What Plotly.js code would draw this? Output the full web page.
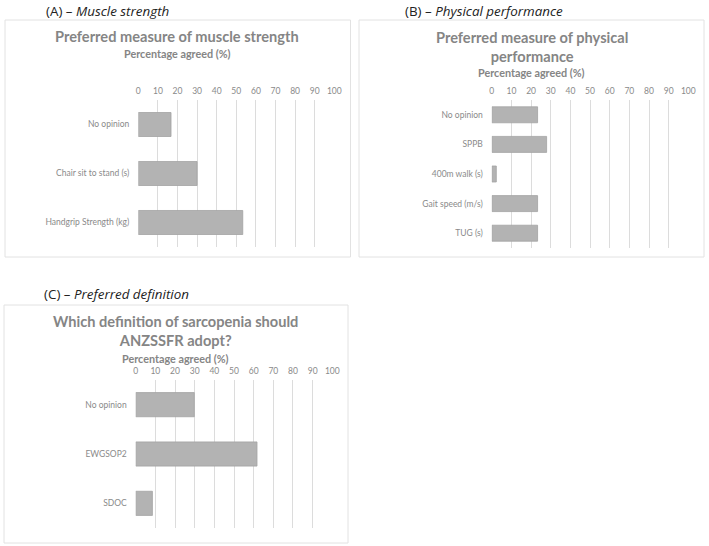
<!DOCTYPE html>
<html>
<head>
<meta charset="utf-8">
<script src="https://cdn.plot.ly/plotly-3.0.1.min.js"></script>
<style>html,body{margin:0;padding:0;background:#fff;}#chart{width:709px;height:546px;}</style>
</head>
<body>
<div id="chart"></div>
<script>
// Panel A – muscle strength
const catsA = ["No opinion", "Chair sit to stand (s)", "Handgrip Strength (kg)"];
const valsA = [16.7, 30.0, 53.3];
// Panel B – physical performance
const catsB = ["No opinion", "SPPB", "400m walk (s)", "Gait speed (m/s)", "TUG (s)"];
const valsB = [23.3, 27.9, 2.3, 23.3, 23.3];
// Panel C – preferred definition
const catsC = ["No opinion", "EWGSOP2", "SDOC"];
const valsC = [29.8, 61.7, 8.5];
const tickVals = [0, 10, 20, 30, 40, 50, 60, 70, 80, 90, 100];

const W = 709, H = 546;
const px = x => x / W;
const py = y => 1 - y / H;

const FONT = "Lato, 'Open Sans', sans-serif";
const barColor = "#b3b3b3";
const barLine = "#a3a3a3";

function bar(cats, vals, xa, ya, w) {
  return {
    type: "bar", orientation: "h", x: vals, y: cats, xaxis: xa, yaxis: ya,
    width: w, marker: {color: barColor, line: {color: barLine, width: 0.8}},
    hoverinfo: "x+y", showlegend: false
  };
}

function xax(dom, anchor) {
  return {
    domain: dom, anchor: anchor, side: "top", range: [0, 100], tickvals: tickVals,
    showgrid: true, gridcolor: "#dcdcdc", gridwidth: 1, zeroline: false, showline: false,
    ticks: "", ticklabelstandoff: 3,
    tickfont: {family: FONT, size: 8.5, color: "#8a8a8a"}, fixedrange: true
  };
}
function yax(dom, anchor) {
  return {
    domain: dom, anchor: anchor, autorange: "reversed", showgrid: false, zeroline: false,
    showline: false, ticks: "", ticklabelstandoff: 8,
    tickfont: {family: FONT, size: 8.5, color: "#8a8a8a"}, fixedrange: true
  };
}

const data = [
  bar(catsA, valsA, "x", "y", 0.49),
  bar(catsB, valsB, "x2", "y2", 0.54),
  bar(catsC, valsC, "x3", "y3", 0.49)
];

const titleFont = {family: FONT, size: 14.6, color: "#858585", weight: "bold"};
const subFont = {family: FONT, size: 10.8, color: "#858585", weight: "bold"};
const panelFont = {family: "'Open Sans', sans-serif", size: 13.4, color: "#222"};

function ann(text, x, y, font, extra) {
  return Object.assign({text: text, x: px(x), y: py(y), xref: "paper", yref: "paper",
    showarrow: false, xanchor: "center", yanchor: "middle", font: font}, extra || {});
}

const layout = {
  width: W, height: H, margin: {l: 0, r: 0, t: 0, b: 0},
  paper_bgcolor: "#fff", plot_bgcolor: "rgba(0,0,0,0)",
  bargap: 0.5,
  xaxis: xax([px(138.3), px(334.3)], "y"),
  yaxis: yax([py(247), py(100)], "x"),
  xaxis2: xax([px(491.8), px(688.3)], "y2"),
  yaxis2: yax([py(248), py(100)], "x2"),
  xaxis3: xax([px(135.7), px(332.3)], "y3"),
  yaxis3: yax([py(528), py(380)], "x3"),
  shapes: [
    {type: "rect", xref: "paper", yref: "paper", x0: px(5), x1: px(350.5), y0: py(257), y1: py(20),
     line: {color: "#e2e2e2", width: 1}, layer: "below"},
    {type: "rect", xref: "paper", yref: "paper", x0: px(359), x1: px(704), y0: py(257), y1: py(20),
     line: {color: "#e2e2e2", width: 1}, layer: "below"},
    {type: "rect", xref: "paper", yref: "paper", x0: px(4), x1: px(348), y0: py(543), y1: py(305),
     line: {color: "#e2e2e2", width: 1}, layer: "below"}
  ],
  annotations: [
    ann("(A) – <i>Muscle strength</i>", 44, 0, panelFont, {xanchor: "left", yanchor: "top"}),
    ann("(B) – <i>Physical performance</i>", 403, 0, panelFont, {xanchor: "left", yanchor: "top"}),
    ann("(C) – <i>Preferred definition</i>", 42, 294, panelFont, {xanchor: "left"}),
    ann("Preferred measure of muscle strength", 177, 37, titleFont),
    ann("Percentage agreed (%)", 177, 54, subFont),
    ann("Preferred measure of physical<br>performance", 532, 47, titleFont),
    ann("Percentage agreed (%)", 531, 73, subFont),
    ann("Which definition of sarcopenia should<br>ANZSSFR adopt?", 175, 331, titleFont),
    ann("Percentage agreed (%)", 175, 358, subFont)
  ]
};

Plotly.newPlot("chart", data, layout, {displayModeBar: false, staticPlot: true});
</script>
</body>
</html>
